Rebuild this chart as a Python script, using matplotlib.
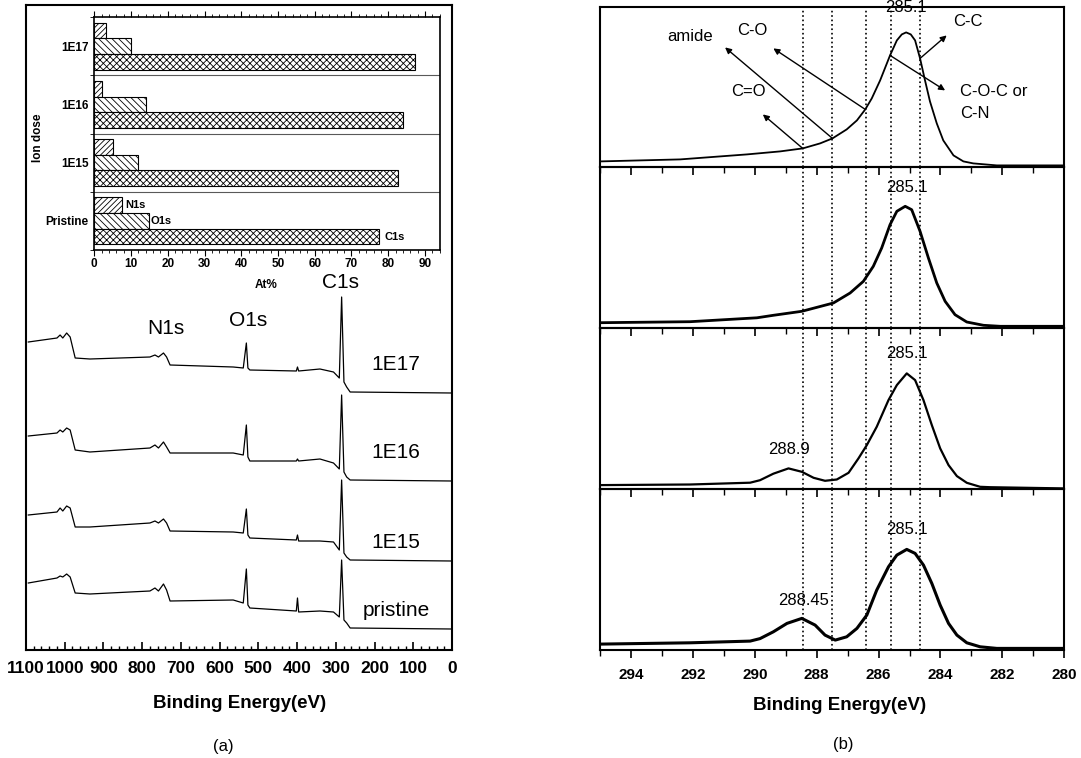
import matplotlib
matplotlib.use("Agg")
import matplotlib.pyplot as plt
from matplotlib.ticker import MultipleLocator, NullFormatter

plt.rcParams["font.family"] = ["Liberation Sans", "DejaVu Sans"]
plt.rcParams["hatch.linewidth"] = 0.6

# (a) survey spectra, keypoints (arb. units)
survey_ev = [1094, 1020, 1012, 1005, 995, 986, 973, 935, 780, 767, 758, 745, 737,
             728, 565, 539, 531, 527, 522, 402, 399, 396, 341, 306, 291, 285,
             279, 272, 263, 1]
survey_1e17 = [308, 312, 315, 312, 317, 313, 292, 291, 293, 295, 293, 297, 293,
               285, 283, 282, 307, 282, 280, 279, 283, 279, 281, 278, 272, 353,
               268, 263, 258, 257]
survey_1e16 = [214, 217, 220, 218, 222, 220, 200, 198, 202, 205, 202, 208, 203,
               197, 197, 195, 225, 193, 189, 189, 191, 189, 191, 187, 181, 255,
               178, 173, 170, 169]
survey_1e15 = [135, 138, 142, 139, 144, 142, 123, 123, 127, 129, 127, 131, 127,
               119, 118, 117, 141, 115, 112, 110, 115, 109, 109, 108, 100, 170,
               97, 93, 90, 89]
survey_pristine = [67, 72, 74, 73, 76, 73, 57, 56, 59, 62, 59, 66, 60,
                   49, 50, 47, 81, 45, 42, 39, 52, 38, 39, 38, 33, 90,
                   30, 27, 22, 21]
survey_names = ["1E17", "1E16", "1E15", "pristine"]
survey_label_y = [285, 197, 107, 40]

# inset: composition (At%)
doses = ["Pristine", "1E15", "1E16", "1E17"]
n1s_pct = [7.5, 5.2, 2.0, 3.2]
o1s_pct = [15.0, 12.0, 14.1, 9.9]
c1s_pct = [77.6, 82.7, 84.1, 87.3]

# (b) C1s high-resolution spectra, top to bottom
c1s_ev_1e17 = [294.99, 292.41, 290.25, 289.18, 288.45, 287.89, 287.49, 287.03, 286.70,
               286.43, 286.22, 285.95, 285.63, 285.41, 285.25, 285.11, 284.96, 284.82,
               284.66, 284.50, 284.34, 284.12, 283.91, 283.58, 283.26, 282.94, 282.18,
               280.03]
c1s_int_1e17 = [6, 8, 13, 16, 19, 24, 29, 38, 47, 58, 69, 87, 112, 127, 133, 135, 133,
                127, 109, 87, 66, 44, 27, 12, 6, 4, 2, 2]
c1s_ev_1e16 = [294.99, 292.09, 289.93, 289.40, 288.48, 287.46, 286.92, 286.49, 286.17,
               285.90, 285.63, 285.41, 285.14, 284.93, 284.66, 284.39, 284.12, 283.85,
               283.53, 283.15, 282.61, 282.07, 280.03]
c1s_int_1e16 = [5.6, 6.6, 10.5, 13, 17, 25.3, 35.3, 47, 62, 80.3, 103.6, 117, 122,
                118.6, 97, 70.3, 45.3, 27, 13.6, 6.3, 3, 2, 2]
c1s_ev_1e15 = [294.99, 292.09, 290.15, 289.83, 289.40, 288.91, 288.48, 288.10, 287.73,
               287.35, 286.97, 286.65, 286.38, 286.06, 285.68, 285.41, 285.09, 284.82,
               284.55, 284.28, 284.01, 283.74, 283.47, 283.15, 282.72, 282.40, 280.03]
c1s_int_1e15 = [4.1, 4.7, 6.5, 9, 15.5, 20.8, 17.4, 11.4, 8.4, 9.7, 16.4, 30.8,
                44.1, 62.4, 89.1, 104.1, 115.8, 109.1, 89.1, 64.1, 40.8, 24.1, 13.1,
                6.4, 2.4, 2, 0.8]
c1s_ev_pristine = [294.99, 292.09, 290.15, 289.83, 289.40, 288.96, 288.48, 288.05,
                   287.73, 287.40, 287.03, 286.70, 286.38, 286.06, 285.68, 285.41,
                   285.09, 284.82, 284.55, 284.28, 284.01, 283.74, 283.47, 283.15,
                   282.72, 282.18, 280.03]
c1s_int_pristine = [6, 7.3, 9, 11.5, 18.3, 26.7, 31.7, 25, 15, 10, 13.3, 21.7, 35, 60,
                    83.3, 95, 100.7, 96.7, 85, 66.7, 45, 26.7, 15, 7.3, 3.3, 1.7, 1.7]
component_ev = [288.45, 287.5, 286.4, 285.6, 284.65]

W, H = 1081, 758
fig = plt.figure(figsize=(W / 100, H / 100), dpi=100)


def box(x0, y0, x1, y1):
    return [x0 / W, 1 - y1 / H, (x1 - x0) / W, (y1 - y0) / H]


# ---------------- (a) survey ----------------
ax = fig.add_axes(box(26, 5, 452, 650))
for vals in [survey_1e17, survey_1e16, survey_1e15, survey_pristine]:
    ax.plot(survey_ev, vals, color="black", lw=0.9)
ax.set_xlim(1100, 0)
ax.set_ylim(0, 645)
ax.set_yticks([])
ax.xaxis.set_major_locator(MultipleLocator(100))
ax.xaxis.set_minor_locator(MultipleLocator(20))
ax.tick_params(axis="x", which="major", direction="in", length=6, width=1.2, pad=8)
ax.tick_params(axis="x", which="minor", direction="in", length=3, width=1)
for lab in ax.get_xticklabels():
    lab.set_fontweight("bold")
    lab.set_fontsize(12.5)
for s in ax.spines.values():
    s.set_linewidth(1.5)
for name, y in zip(survey_names, survey_label_y):
    ax.text(145, y, name, fontsize=15, ha="center", va="center")
ax.text(738, 322, "N1s", fontsize=15, ha="center", va="center")
ax.text(527, 330, "O1s", fontsize=15, ha="center", va="center")
ax.text(289, 367, "C1s", fontsize=15, ha="center", va="center")
fig.text(240 / W, 1 - 704 / H, "Binding Energy(eV)", fontsize=13.5,
         fontweight="bold", ha="center", va="center")
fig.text(223 / W, 1 - 746 / H, "(a)", fontsize=12, ha="center", va="center")

# inset bar chart
axi = fig.add_axes(box(94.3, 17, 440, 250))
pos = list(range(len(doses)))
bh = 0.27
axi.barh([p + bh for p in pos], n1s_pct, height=bh, color="white",
         edgecolor="black", hatch="//////", lw=0.8)
axi.barh(pos, o1s_pct, height=bh, color="white", edgecolor="black",
         hatch="\\\\\\\\\\", lw=0.8)
axi.barh([p - bh for p in pos], c1s_pct, height=bh, color="white",
         edgecolor="black", hatch="xxxxx", lw=0.8)
for b in [0.5, 1.5, 2.5]:
    axi.axhline(b, color="0.35", lw=0.8)
axi.set_xlim(0, 94.1)
axi.set_ylim(-0.5, 3.5)
axi.set_yticks(pos)
axi.set_yticklabels(doses, fontsize=8.5, fontweight="bold")
axi.set_yticks([-0.5, 0.5, 1.5, 2.5, 3.5], minor=True)
axi.tick_params(axis="y", which="major", length=0, pad=4)
axi.tick_params(axis="y", which="minor", length=3, direction="out")
axi.xaxis.set_major_locator(MultipleLocator(10))
axi.xaxis.set_minor_locator(MultipleLocator(2))
axi.tick_params(axis="x", which="both", top=True, direction="out")
axi.tick_params(axis="x", which="major", length=4, pad=2)
axi.tick_params(axis="x", which="minor", length=2)
for lab in axi.get_xticklabels():
    lab.set_fontweight("bold")
    lab.set_fontsize(8.5)
for s in axi.spines.values():
    s.set_linewidth(1.2)
axi.text(n1s_pct[0] + 1.0, bh, "N1s", fontsize=8, fontweight="bold", va="center")
axi.text(o1s_pct[0] + 0.3, 0, "O1s", fontsize=8, fontweight="bold", va="center")
axi.text(c1s_pct[0] + 1.4, -bh, "C1s", fontsize=8, fontweight="bold", va="center")
fig.text(38 / W, 1 - 138 / H, "Ion dose", rotation=90, fontsize=8.5,
         fontweight="bold", ha="center", va="center")
fig.text(266 / W, 1 - 285 / H, "At%", fontsize=8.5, fontweight="bold",
         ha="center", va="center")

# ---------------- (b) C1s ----------------
spectra = [(c1s_ev_1e17, c1s_int_1e17, 1.3),
           (c1s_ev_1e16, c1s_int_1e16, 2.0),
           (c1s_ev_1e15, c1s_int_1e15, 1.6),
           (c1s_ev_pristine, c1s_int_pristine, 2.2)]
peak_labels = [[("285.1", 285.12, 160)],
               [("285.1", 285.1, 141)],
               [("285.1", 285.1, 136), ("288.9", 288.91, 40)],
               [("285.1", 285.1, 121), ("288.45", 288.43, 50)]]
ph = 160.9
axes_b = []
for i, (ev, inten, lw) in enumerate(spectra):
    top = 6.5 + i * ph
    a = fig.add_axes(box(600, top, 1064.3, top + ph))
    a.set_facecolor("none")
    a.plot(ev, inten, color="black", lw=lw, solid_joinstyle="round")
    for c in component_ev:
        a.axvline(c, color="black", ls=":", lw=1.2)
    a.set_xlim(295, 280)
    a.set_ylim(0, ph)
    a.set_yticks([])
    a.xaxis.set_major_locator(MultipleLocator(2))
    a.xaxis.set_minor_locator(MultipleLocator(1))
    a.tick_params(axis="x", which="major", direction="out", length=6, width=1.2, pad=7)
    a.tick_params(axis="x", which="minor", direction="out", length=4, width=1)
    for s in a.spines.values():
        s.set_linewidth(1.5)
    if i < 3:
        a.xaxis.set_major_formatter(NullFormatter())
    else:
        for lab in a.get_xticklabels():
            lab.set_fontweight("bold")
            lab.set_fontsize(11)
    for txt, x, y in peak_labels[i]:
        a.text(x, y, txt, fontsize=12, ha="center", va="center", clip_on=False)
    axes_b.append(a)

# bond assignments on the top spectrum
a0 = axes_b[0]
arrows = [((288.45, 19), (289.74, 53)),
          ((287.49, 29), (290.96, 120)),
          ((286.43, 58), (289.40, 119)),
          ((284.66, 109), (283.80, 132)),
          ((285.63, 112), (283.85, 77))]
for tail, head in arrows:
    a0.annotate("", xy=head, xytext=tail,
                arrowprops=dict(arrowstyle="-|>", color="black", lw=1.0,
                                mutation_scale=9, shrinkA=0, shrinkB=0))
a0.text(292.09, 131, "amide", fontsize=12, ha="center", va="center")
a0.text(290.08, 137, "C-O", fontsize=12, ha="center", va="center")
a0.text(290.21, 76, "C=O", fontsize=12, ha="center", va="center")
a0.text(283.11, 146, "C-C", fontsize=12, ha="center", va="center")
a0.text(283.37, 76, "C-O-C or", fontsize=12, ha="left", va="center")
a0.text(283.37, 54, "C-N", fontsize=12, ha="left", va="center")

fig.text(840 / W, 1 - 705 / H, "Binding Energy(eV)", fontsize=13.5,
         fontweight="bold", ha="center", va="center")
fig.text(843 / W, 1 - 745 / H, "(b)", fontsize=12, ha="center", va="center")

fig.savefig("out.png", dpi=100)
